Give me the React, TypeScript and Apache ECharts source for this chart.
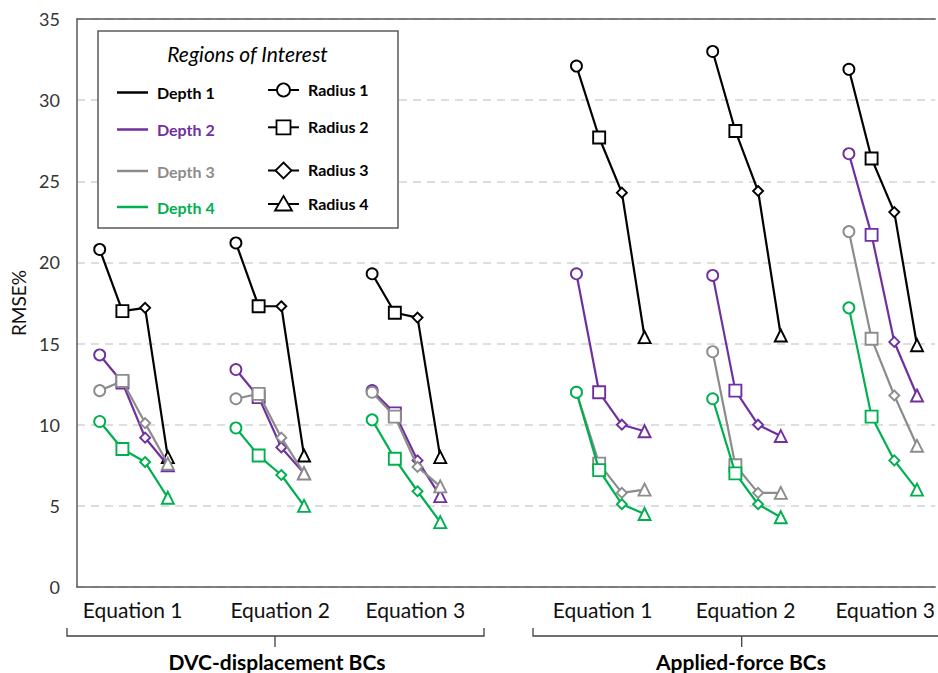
import React, { useEffect, useRef } from "react";
import * as echarts from "echarts";

// ---------- data ----------
const groups = ["Equation 1", "Equation 2", "Equation 3", "Equation 1", "Equation 2", "Equation 3"];
const boundaryConditions = ["DVC-displacement BCs", "Applied-force BCs"];
const depthNames = ["Depth 1", "Depth 2", "Depth 3", "Depth 4"];
const radiusNames = ["Radius 1", "Radius 2", "Radius 3", "Radius 4"];
// x position of first radius point of each group (value axis units)
const groupOffsets = [0, 6, 12, 21, 27, 33];
// x-axis label positions (value axis units)
const groupLabelPositions = [1.45, 7.95, 13.9, 22.15, 28.45, 34.6];
const yTicks = [0, 5, 10, 15, 20, 25, 30, 35];

// RMSE% values: [group][radius]
const depth1 = [
  [20.8, 17.0, 17.2, 8.0],
  [21.2, 17.3, 17.3, 8.1],
  [19.3, 16.9, 16.6, 8.0],
  [32.1, 27.7, 24.3, 15.4],
  [33.0, 28.1, 24.4, 15.5],
  [31.9, 26.4, 23.1, 14.9],
];
const depth2 = [
  [14.3, 12.6, 9.2, 7.5],
  [13.4, 11.7, 8.6, 7.0],
  [12.1, 10.7, 7.8, 5.6],
  [19.3, 12.0, 10.0, 9.6],
  [19.2, 12.1, 10.0, 9.3],
  [26.7, 21.7, 15.1, 11.8],
];
const depth3 = [
  [12.1, 12.7, 10.1, 7.6],
  [11.6, 11.9, 9.2, 7.0],
  [12.0, 10.5, 7.4, 6.2],
  [12.0, 7.6, 5.8, 6.0],
  [14.5, 7.5, 5.8, 5.8],
  [21.9, 15.3, 11.8, 8.7],
];
const depth4 = [
  [10.2, 8.5, 7.7, 5.5],
  [9.8, 8.1, 6.9, 5.0],
  [10.3, 7.9, 5.9, 4.0],
  [12.0, 7.2, 5.1, 4.5],
  [11.6, 7.0, 5.1, 4.3],
  [17.2, 10.5, 7.8, 6.0],
];

// ---------- styles ----------
const depthData = [depth1, depth2, depth3, depth4];
const depthColors = ["#000000", "#7030A0", "#8C8C8C", "#00B050"];
const symbols = ["circle", "rect", "diamond", "triangle"];
const symbolSizes = [11, 12, 10, 12];
const FONT = "Lato, 'Open Sans', sans-serif";
const AXIS_COLOR = "#595959";

function buildSeries() {
  const series: any[] = [];
  depthData.forEach((dep, d) => {
    dep.forEach((vals, g) => {
      series.push({
        type: "line",
        name: depthNames[d],
        data: vals.map((v, i) => ({
          value: [groupOffsets[g] + i, v],
          symbol: symbols[i],
          symbolSize: symbolSizes[i],
        })),
        showAllSymbol: true,
        lineStyle: { color: depthColors[d], width: 2.2 },
        itemStyle: { color: "#ffffff", borderColor: depthColors[d], borderWidth: 1.9 },
        emphasis: { disabled: true },
        silent: true,
        z: 2 + d,
      });
    });
  });
  return series;
}

function legendGraphics() {
  const els: any[] = [];
  const Z = 100;
  els.push({
    type: "rect",
    shape: { x: 98, y: 31, width: 300, height: 197 },
    style: { fill: "#ffffff", stroke: AXIS_COLOR, lineWidth: 1.5 },
    z: Z,
  });
  els.push({
    type: "text",
    x: 247.5,
    y: 53,
    style: {
      text: "Regions of Interest",
      font: `italic 21px ${FONT}`,
      fill: "#000",
      align: "center",
      verticalAlign: "middle",
    },
    z: Z + 1,
  });
  const depthY = [92.5, 129.5, 171, 207];
  depthNames.forEach((name, i) => {
    els.push({
      type: "line",
      shape: { x1: 117, y1: depthY[i], x2: 148, y2: depthY[i] },
      style: { stroke: depthColors[i], lineWidth: 2.5 },
      z: Z + 1,
    });
    els.push({
      type: "text",
      x: 157,
      y: depthY[i],
      style: {
        text: name,
        font: `bold 16px ${FONT}`,
        fill: depthColors[i],
        align: "left",
        verticalAlign: "middle",
      },
      z: Z + 1,
    });
  });
  const radY = [90, 127.3, 170.5, 204];
  const mx = 283.5;
  radiusNames.forEach((name, i) => {
    const y = radY[i];
    els.push({
      type: "line",
      shape: { x1: 268, y1: y, x2: 299, y2: y },
      style: { stroke: "#000", lineWidth: 2 },
      z: Z + 1,
    });
    const mStyle = { fill: "#fff", stroke: "#000", lineWidth: 1.8 };
    if (i === 0) {
      els.push({ type: "circle", shape: { cx: mx, cy: y, r: 6.5 }, style: mStyle, z: Z + 2 });
    } else if (i === 1) {
      els.push({ type: "rect", shape: { x: mx - 7, y: y - 7, width: 14, height: 14 }, style: mStyle, z: Z + 2 });
    } else if (i === 2) {
      els.push({
        type: "polygon",
        shape: { points: [[mx, y - 8], [mx + 8, y], [mx, y + 8], [mx - 8, y]] },
        style: mStyle,
        z: Z + 2,
      });
    } else {
      els.push({
        type: "polygon",
        shape: { points: [[mx, y - 8], [mx + 8.5, y + 6.5], [mx - 8.5, y + 6.5]] },
        style: mStyle,
        z: Z + 2,
      });
    }
    els.push({
      type: "text",
      x: 308,
      y: y - 1,
      style: {
        text: name,
        font: `bold 16px ${FONT}`,
        fill: "#000",
        align: "left",
        verticalAlign: "middle",
      },
      z: Z + 1,
    });
  });
  return els;
}

function bracketGraphics() {
  const els: any[] = [];
  const stroke = { stroke: "#404040", lineWidth: 1.3, fill: null };
  els.push({ type: "polyline", shape: { points: [[67, 628], [67, 636], [484, 636], [484, 628]] }, style: stroke });
  els.push({ type: "line", shape: { x1: 275, y1: 636, x2: 275, y2: 647 }, style: stroke });
  els.push({ type: "polyline", shape: { points: [[533, 628], [533, 636], [950, 636]] }, style: stroke });
  els.push({ type: "line", shape: { x1: 741.7, y1: 636, x2: 741.7, y2: 647 }, style: stroke });
  const titleX = [277, 741];
  boundaryConditions.forEach((t, i) => {
    els.push({
      type: "text",
      x: titleX[i],
      y: 661,
      style: {
        text: t,
        font: `bold 21px ${FONT}`,
        fill: "#000",
        align: "center",
        verticalAlign: "middle",
      },
    });
  });
  return els;
}

export default function App() {
  const ref = useRef<HTMLDivElement>(null);
  useEffect(() => {
    if (!ref.current) return;
    const chart = echarts.init(ref.current, null, { renderer: "svg" });
    const xCommon = {
      type: "value",
      min: -1,
      max: 36.8,
      splitLine: { show: false },
      axisTick: { show: false },
    };
    chart.setOption({
      animation: false,
      backgroundColor: "#ffffff",
      grid: { left: 77, right: 0, top: 19, bottom: 86, containLabel: false },
      xAxis: [
        {
          ...xCommon,
          position: "bottom",
          axisLine: { show: true, onZero: false, lineStyle: { color: AXIS_COLOR, width: 1.5 } },
          axisLabel: {
            customValues: groupLabelPositions,
            formatter: (v: number) => {
              const idx = groupLabelPositions.findIndex((p) => Math.abs(p - v) < 1e-6);
              return idx >= 0 ? groups[idx] : "";
            },
            fontFamily: FONT,
            fontSize: 21,
            color: "#111",
            margin: 12,
            showMinLabel: true,
            showMaxLabel: true,
          },
        },
        {
          ...xCommon,
          position: "top",
          axisLine: { show: true, onZero: false, lineStyle: { color: AXIS_COLOR, width: 1.5 } },
          axisLabel: { show: false },
        },
      ],
      yAxis: {
        type: "value",
        min: 0,
        max: 35,
        interval: 5,
        name: "RMSE%",
        nameLocation: "middle",
        nameGap: 46,
        nameRotate: 90,
        nameTextStyle: { fontFamily: FONT, fontSize: 19, color: "#111" },
        axisLine: { show: true, onZero: false, lineStyle: { color: AXIS_COLOR, width: 1.5 } },
        axisTick: { show: false },
        axisLabel: {
          fontFamily: FONT,
          fontSize: 18,
          color: "#333",
          margin: 17,
          formatter: (v: number) => (yTicks.includes(v) ? String(v) : ""),
        },
        splitLine: {
          show: true,
          lineStyle: { color: "#d4d4d4", width: 1.5, type: [8, 6] },
        },
      },
      series: buildSeries(),
      graphic: { elements: [...legendGraphics(), ...bracketGraphics()] },
    });
    return () => chart.dispose();
  }, []);
  return (
    <div
      ref={ref}
      style={{ position: "absolute", left: 0, top: 0, width: 938, height: 673, background: "#fff" }}
    />
  );
}
